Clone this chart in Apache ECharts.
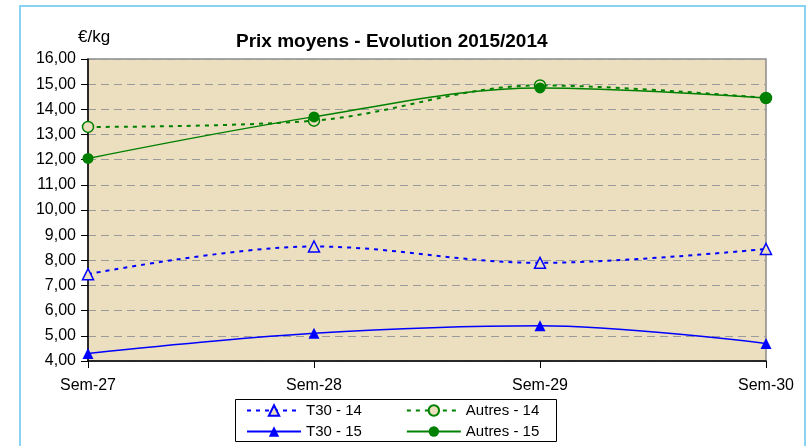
<!DOCTYPE html>
<html>
<head>
<meta charset="utf-8">
<script src="https://cdn.jsdelivr.net/npm/echarts@6/dist/echarts.min.js"></script>
<style>
  html, body { margin: 0; padding: 0; background: #fff; }
  #chart { width: 810px; height: 446px; }
</style>
</head>
<body>
<div id="chart"></div>
<script>
// categories + series values
var weeks = ['Sem-27', 'Sem-28', 'Sem-29', 'Sem-30'];
var t30_14 = [7.45, 8.55, 7.9, 8.45];
var t30_15 = [4.3, 5.1, 5.4, 4.7];
var autres_14 = [13.3, 13.55, 14.95, 14.45];
var autres_15 = [12.05, 13.7, 14.85, 14.45];

var bgPlot = '#ecdfbf';
var font = 'Liberation Sans, Arial, sans-serif';

// both legend rows share the same look
function legendRow(top, names) {
  return {
    left: 246, top: top,
    orient: 'horizontal',
    padding: 0,
    itemGap: 44,
    itemWidth: 54, itemHeight: 13,
    textStyle: { fontSize: 15, color: '#000', fontFamily: font },
    data: names
  };
}

var chart = echarts.init(document.getElementById('chart'));
chart.setOption({
  animation: false,
  textStyle: { fontFamily: font },
  graphic: [
    // outer frame (light blue)
    { type: 'rect', shape: { x: 20, y: 6, width: 785, height: 460 },
      style: { fill: 'none', stroke: '#88d2f3', lineWidth: 2 }, z: -10 },
    // plot background
    { type: 'rect', shape: { x: 88, y: 59, width: 678, height: 302 },
      style: { fill: bgPlot, stroke: '#8c8c8c', lineWidth: 1.5 }, z: -5 },
    // legend box
    { type: 'rect', shape: { x: 235.5, y: 399.5, width: 321, height: 42 },
      style: { fill: '#fff', stroke: '#000', lineWidth: 1 }, z: -5 },
    { type: 'text', left: 78, top: 29,
      style: { text: '€/kg', font: '17px ' + font, fill: '#000' } }
  ],
  title: {
    text: 'Prix moyens - Evolution 2015/2014',
    left: 231, top: 27,
    textStyle: { fontSize: 19, fontWeight: 'bold', color: '#000', fontFamily: font }
  },
  grid: { left: 88, right: 44, top: 59, bottom: 85 },
  legend: [
    legendRow(403, ['T30 - 14', 'Autres - 14']),
    legendRow(424, ['T30 - 15', 'Autres - 15'])
  ],
  xAxis: {
    type: 'category',
    data: weeks,
    boundaryGap: false,
    axisLine: { lineStyle: { color: '#000', width: 1.5 } },
    axisTick: { alignWithLabel: true, length: 7, lineStyle: { color: '#000' } },
    axisLabel: { fontSize: 16, color: '#000', margin: 17 }
  },
  yAxis: {
    type: 'value',
    min: 4, max: 16, interval: 1,
    axisLine: { show: true, lineStyle: { color: '#000', width: 1.5 } },
    axisTick: { show: true, length: 7, lineStyle: { color: '#000' } },
    axisLabel: {
      fontSize: 16, color: '#000', margin: 12,
      formatter: function (v) { return v.toFixed(2).replace('.', ','); }
    },
    splitLine: { lineStyle: { color: '#9a9a9a', type: [8, 5], width: 1 } }
  },
  series: [
    {
      name: 'T30 - 14', type: 'line', data: t30_14, smooth: 0.35,
      symbol: 'triangle', symbolSize: 11,
      lineStyle: { color: '#0000ff', width: 2, type: [4, 5] },
      itemStyle: { color: bgPlot, borderColor: '#0000ff', borderWidth: 1.5 }
    },
    {
      name: 'Autres - 14', type: 'line', data: autres_14, smooth: 0.35,
      symbol: 'circle', symbolSize: 11,
      lineStyle: { color: '#008000', width: 2, type: [4, 5] },
      itemStyle: { color: bgPlot, borderColor: '#008000', borderWidth: 1.5 }
    },
    {
      name: 'T30 - 15', type: 'line', data: t30_15, smooth: 0.35,
      symbol: 'triangle', symbolSize: 11,
      lineStyle: { color: '#0000ff', width: 1.5 },
      itemStyle: { color: '#0000ff' }
    },
    {
      name: 'Autres - 15', type: 'line', data: autres_15, smooth: 0.35,
      symbol: 'circle', symbolSize: 11,
      lineStyle: { color: '#008000', width: 1.5 },
      itemStyle: { color: '#008000' }
    }
  ]
});
</script>
</body>
</html>
